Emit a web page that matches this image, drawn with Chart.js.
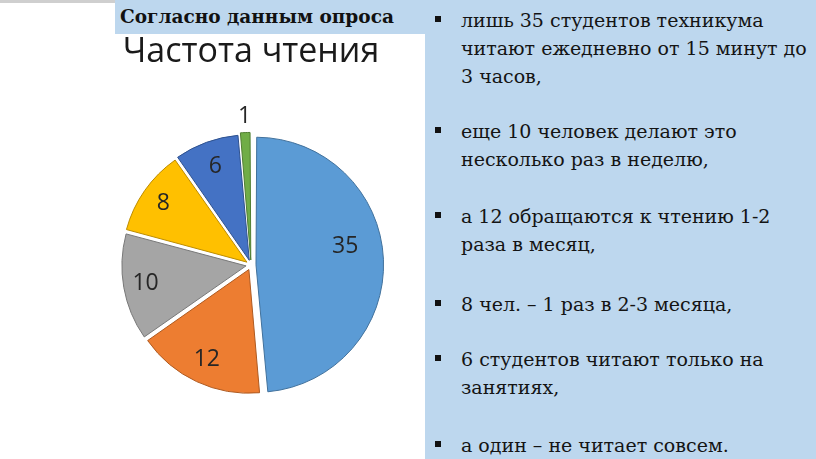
<!DOCTYPE html>
<html><head><meta charset="utf-8">
<script src="https://cdn.jsdelivr.net/npm/chart.js@4/dist/chart.umd.min.js"></script>
<style>
html,body{margin:0;padding:0;width:816px;height:459px;overflow:hidden;background:#fff;}
#topline{position:absolute;left:0;top:0;width:115px;height:3px;background:#cfcfcf;}
#panel{position:absolute;left:425px;top:0;width:391px;height:459px;background:#BDD7EE;}
#head{position:absolute;left:115px;top:0;width:310px;height:34px;background:#BDD7EE;z-index:2;}
#head span{position:absolute;left:5px;top:3px;font-family:"DejaVu Serif",serif;font-weight:bold;font-size:18.5px;letter-spacing:0;line-height:28px;color:#111;white-space:nowrap;}
#c{position:absolute;left:101px;top:0;z-index:1;}
.p{position:absolute;left:461px;font-family:"DejaVu Serif",serif;font-size:19px;line-height:28px;color:#141414;white-space:nowrap;z-index:3;}
.p::before{content:"";position:absolute;left:-26px;top:10px;width:6px;height:6px;background:#111;}
</style></head>
<body>
<div id="topline"></div>
<div id="panel"></div>
<canvas id="c" width="300" height="459"></canvas>
<div id="head"><span>Согласно данным опроса</span></div>
<div class="p" style="top:6.4px">лишь 35 студентов техникума<br>читают ежедневно от 15 минут до<br>3 часов,</div>
<div class="p" style="top:117.4px">еще 10 человек делают это<br>несколько раз в неделю,</div>
<div class="p" style="top:202.4px">а 12 обращаются к чтению 1-2<br>раза в месяц,</div>
<div class="p" style="top:290.4px">8 чел. – 1 раз в 2-3 месяца,</div>
<div class="p" style="top:345.4px">6 студентов читают только на<br>занятиях,</div>
<div class="p" style="top:431.4px">а один – не читает совсем.</div>
<script>
const categories = ["ежедневно", "1-2 раза в месяц", "несколько раз в неделю", "1 раз в 2-3 месяца", "только на занятиях", "не читает"];
const values = [35, 12, 10, 8, 6, 1];
const chartTitle = "Частота чтения";
const fillColors = ["#5B9BD5", "#ED7D31", "#A5A5A5", "#FFC000", "#4472C4", "#70AD47"];
const edgeColors = ["#41719C", "#AE5A21", "#787878", "#BC8C00", "#2F528F", "#507E32"];

const sliceLabels = {
  id: 'sliceLabels',
  afterDatasetsDraw(chart, args, opts) {
    const meta = chart.getDatasetMeta(0);
    const ctx = chart.ctx;
    ctx.save();
    ctx.font = opts.font;
    ctx.fillStyle = opts.color;
    ctx.textAlign = 'center';
    ctx.textBaseline = 'middle';
    meta.data.forEach((arc, i) => {
      const p = arc.getProps(['x', 'y', 'startAngle', 'endAngle', 'outerRadius'], true);
      const mid = (p.startAngle + p.endAngle) / 2 + (opts.shift[i] || 0) * Math.PI / 180;
      const r = p.outerRadius * opts.radius[i];
      ctx.fillText(String(chart.data.datasets[0].data[i]), p.x + Math.cos(mid) * r, p.y + Math.sin(mid) * r);
    });
    ctx.restore();
  }
};

new Chart(document.getElementById('c'), {
  type: 'pie',
  data: {
    labels: categories,
    datasets: [{
      data: values,
      backgroundColor: fillColors,
      borderColor: edgeColors,
      borderWidth: 1,
      offset: 20
    }]
  },
  options: {
    responsive: false,
    animation: false,
    layout: { padding: { top: 0, bottom: 60.5, left: 0, right: 0 } },
    plugins: {
      legend: { display: false },
      tooltip: { enabled: false },
      title: {
        display: true,
        text: chartTitle,
        color: '#1a1a1a',
        font: { family: 'Open Sans', size: 34, weight: 'normal', lineHeight: 1.2 },
        padding: { top: 32, bottom: 58.7 }
      },
      sliceLabels: {
        font: '23px "Open Sans"',
        color: '#262626',
        radius: [0.78, 0.85, 0.87, 0.87, 0.85, 1.21],
        shift: [-8.5, 0, 0, 0, 0, 0]
      }
    }
  },
  plugins: [sliceLabels]
});
</script>
</body></html>
